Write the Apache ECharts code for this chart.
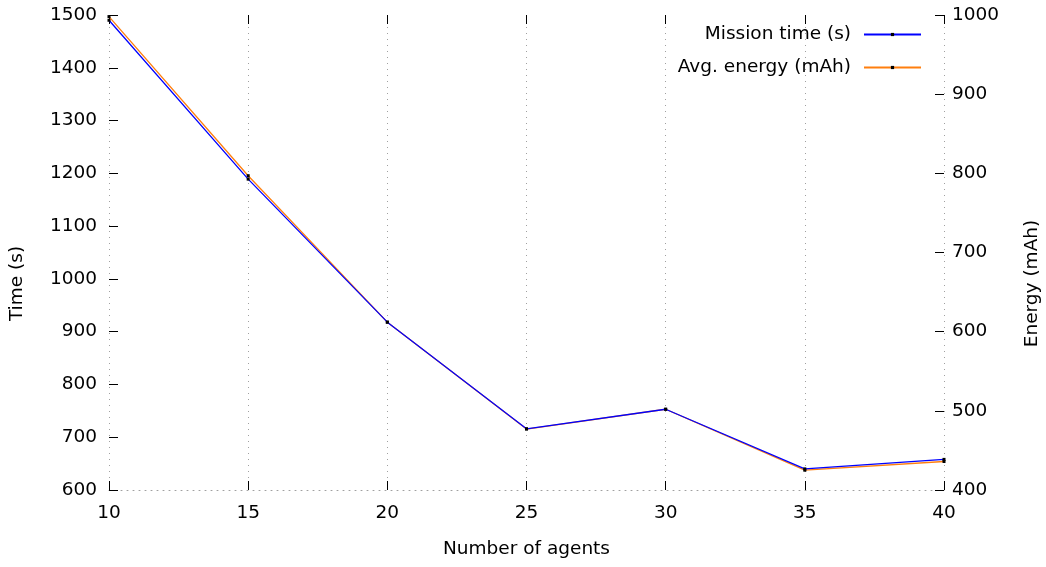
<!DOCTYPE html>
<html>
<head>
<meta charset="utf-8">
<script src="https://cdn.jsdelivr.net/npm/echarts@6/dist/echarts.min.js"></script>
<style>html,body{margin:0;padding:0;background:#fff}#c{width:1046px;height:567px}</style>
</head>
<body>
<div id="c"></div>
<script>
const agents = [10, 15, 20, 25, 30, 35, 40];
const missionTime = [1490, 1189, 918, 716, 753, 640, 658];
const avgEnergy = [998, 797, 612, 477, 502, 425, 436];
const seriesNames = ['Mission time (s)', 'Avg. energy (mAh)'];

const FONT = 'DejaVu Sans';
const FS = 18.5;
const tick = { show: true, inside: true, length: 9, lineStyle: { color: '#000', width: 1 } };
const dotted = { color: '#a0a0a0', width: 1, type: [1, 5] };
const plain = v => String(v);

const legendBase = {
  right: 124, orient: 'vertical', align: 'right', padding: 0,
  itemWidth: 57, itemHeight: 4,
  textStyle: { fontFamily: FONT, fontSize: FS, color: '#000', padding: [0, 8, 0, 0] }
};

const chart = echarts.init(document.getElementById('c'), null, { renderer: 'canvas' });
chart.setOption({
  animation: false,
  backgroundColor: '#fff',
  textStyle: { fontFamily: FONT },
  grid: { left: 109, right: 102, top: 15, bottom: 77, containLabel: false, outerBoundsMode: 'none' },
  legend: [
    Object.assign({}, legendBase, { data: [seriesNames[0]], top: 25 }),
    Object.assign({}, legendBase, { data: [seriesNames[1]], top: 58 })
  ],
  xAxis: [
    {
      type: 'value', min: 10, max: 40, interval: 5, position: 'bottom',
      name: 'Number of agents', nameLocation: 'middle', nameGap: 50,
      nameTextStyle: { fontFamily: FONT, fontSize: FS, color: '#000' },
      axisLine: { show: true, lineStyle: dotted },
      axisTick: tick,
      axisLabel: { fontFamily: FONT, fontSize: FS, color: '#000', margin: 14, formatter: plain },
      splitLine: { show: true, lineStyle: dotted }
    },
    {
      type: 'value', min: 10, max: 40, interval: 5, position: 'top',
      axisLine: { show: false },
      axisTick: tick,
      axisLabel: { show: false },
      splitLine: { show: false }
    }
  ],
  yAxis: [
    {
      type: 'value', min: 600, max: 1500, interval: 100, position: 'left',
      name: 'Time (s)', nameLocation: 'middle', nameGap: 82, nameRotate: 90,
      nameTextStyle: { fontFamily: FONT, fontSize: FS, color: '#000', padding: [0, 62, 0, 0] },
      axisLine: { show: false },
      axisTick: tick,
      axisLabel: { fontFamily: FONT, fontSize: FS, color: '#000', margin: 12, formatter: plain },
      splitLine: { show: false }
    },
    {
      type: 'value', min: 400, max: 1000, interval: 100, position: 'right',
      name: 'Energy (mAh)', nameLocation: 'middle', nameGap: 79, nameRotate: 90,
      nameTextStyle: { fontFamily: FONT, fontSize: FS, color: '#000', padding: [0, 62, 0, 0] },
      axisLine: { show: false },
      axisTick: tick,
      axisLabel: { fontFamily: FONT, fontSize: FS, color: '#000', margin: 8, formatter: plain },
      splitLine: { show: false }
    }
  ],
  series: [
    {
      name: seriesNames[1], type: 'line', xAxisIndex: 0, yAxisIndex: 1, z: 2,
      data: agents.map((a, i) => [a, avgEnergy[i]]),
      symbol: 'rect', symbolSize: 3, showSymbol: true,
      itemStyle: { color: '#000' },
      lineStyle: { color: '#ff7f0e', width: 1.3 }
    },
    {
      name: seriesNames[0], type: 'line', xAxisIndex: 0, yAxisIndex: 0, z: 3,
      data: agents.map((a, i) => [a, missionTime[i]]),
      symbol: 'rect', symbolSize: 3, showSymbol: true,
      itemStyle: { color: '#000' },
      lineStyle: { color: '#0000ff', width: 1.3 }
    }
  ]
});
</script>
</body>
</html>
